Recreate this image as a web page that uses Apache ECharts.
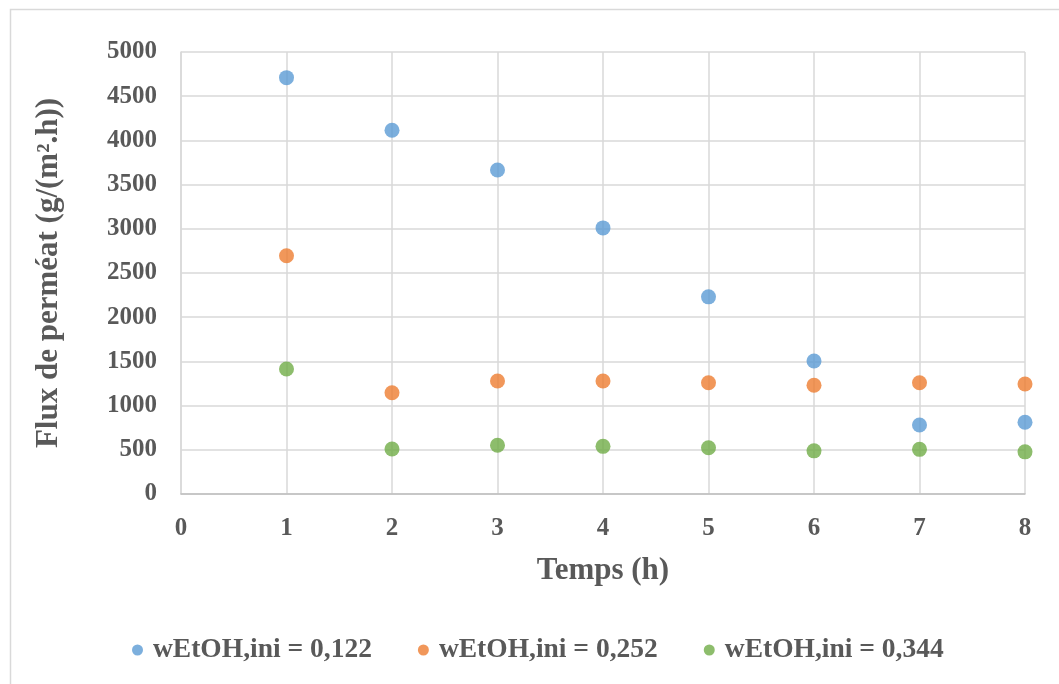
<!DOCTYPE html>
<html>
<head>
<meta charset="utf-8">
<script src="https://cdn.jsdelivr.net/npm/echarts@6/dist/echarts.min.js"></script>
<style>
html,body{margin:0;padding:0;background:#fff;}
#c{width:1059px;height:684px;}
</style>
</head>
<body>
<div id="c"></div>
<script>
const hours = [1, 2, 3, 4, 5, 6, 7, 8];
const seriesNames = ['wEtOH,ini = 0,122', 'wEtOH,ini = 0,252', 'wEtOH,ini = 0,344'];
const flux122 = [4710, 4115, 3665, 3010, 2230, 1505, 780, 812];
const flux252 = [2695, 1145, 1278, 1278, 1259, 1230, 1259, 1245];
const flux344 = [1414, 509, 551, 539, 524, 488, 505, 477];
const colors = ['#5b9bd5', '#ed7d31', '#70ad47'];
const xTitle = 'Temps (h)';
const yTitle = 'Flux de perméat (g/(m².h))';

const font = 'Liberation Serif';
const txt = '#595959';
const allData = [flux122, flux252, flux344];

const chart = echarts.init(document.getElementById('c'), null, {renderer: 'canvas'});
chart.setOption({
  backgroundColor: '#fff',
  animation: false,
  graphic: [{
    type: 'rect', left: 8, top: 7, silent: true,
    shape: {x: 0, y: 0, width: 1080, height: 700},
    style: {fill: 'none', stroke: '#d9d9d9', lineWidth: 1.5}
  }],
  grid: {left: 181, right: 34, top: 52, bottom: 190, containLabel: false},
  xAxis: {
    type: 'value', min: 0, max: 8, interval: 1,
    name: xTitle, nameLocation: 'middle', nameGap: 61,
    nameTextStyle: {fontFamily: font, fontWeight: 'bold', fontSize: 31, color: txt},
    axisLine: {show: true, lineStyle: {color: '#bfbfbf', width: 1.5}},
    axisTick: {show: false},
    axisLabel: {fontFamily: font, fontWeight: 'bold', fontSize: 25, color: txt, margin: 22,
      formatter: v => String(v)},
    splitLine: {show: true, lineStyle: {color: '#d9d9d9', width: 1.5}}
  },
  yAxis: {
    type: 'value', min: 0, max: 5000, interval: 500,
    name: yTitle, nameLocation: 'middle', nameGap: 117, nameRotate: 90,
    nameTextStyle: {fontFamily: font, fontWeight: 'bold', fontSize: 31, color: txt},
    axisLine: {show: true, lineStyle: {color: '#d9d9d9', width: 1.5}},
    axisTick: {show: false},
    axisLabel: {fontFamily: font, fontWeight: 'bold', fontSize: 25, color: txt, margin: 24,
      formatter: v => String(v)},
    splitLine: {show: true, lineStyle: {color: '#d9d9d9', width: 1.5}}
  },
  legend: {
    bottom: 15, left: 127,
    itemWidth: 11, itemHeight: 11, itemGap: 46,
    icon: 'circle',
    textStyle: {fontFamily: font, fontWeight: 'bold', fontSize: 27.5, color: txt, padding: [0, 0, 0, 5]},
    data: seriesNames
  },
  series: seriesNames.map((n, i) => ({
    name: n, type: 'scatter', symbol: 'circle', symbolSize: 15,
    itemStyle: {color: colors[i]},
    data: hours.map((h, k) => [h, allData[i][k]])
  }))
});
</script>
</body>
</html>
